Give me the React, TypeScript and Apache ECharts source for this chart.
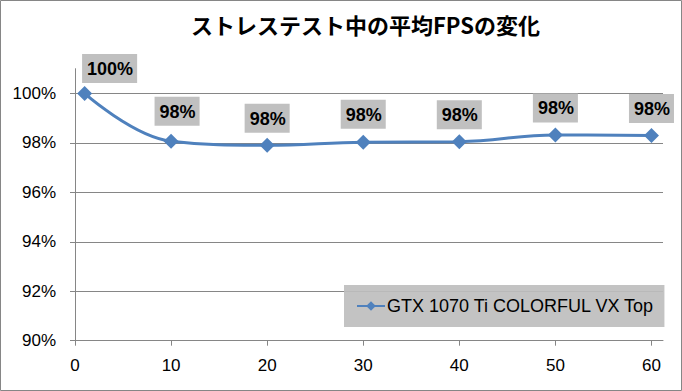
import React, { useEffect, useRef } from 'react';
import * as echarts from 'echarts';

const chartTitle = 'ストレステスト中の平均FPSの変化';
const seriesName = 'GTX 1070 Ti COLORFUL VX Top';
const xValues = [1, 10, 20, 30, 40, 50, 60];
const fpsPercent = [100, 98.07, 97.9, 98.03, 98.05, 98.32, 98.3];
const xTicks = [0, 10, 20, 30, 40, 50, 60];
const yTicks = [90, 92, 94, 96, 98, 100];

const labelOffsets: number[][] = [[25, 2], [6, -3], [0, 0], [0, -1], [0, 0], [0, 0], [0, 0]];

export default function App() {
  const ref = useRef<HTMLDivElement>(null);
  useEffect(() => {
    document.body.style.margin = '0';
    const chart = echarts.init(ref.current!, null, { renderer: 'svg' });
    const axisColor = '#868686';
    const font = '"Liberation Sans", Arial, sans-serif';
    chart.setOption({
      animation: false,
      backgroundColor: '#ffffff',
      title: {
        text: chartTitle,
        left: 186,
        top: 8,
        textStyle: { fontFamily: '"Noto Sans CJK JP", sans-serif', fontWeight: 'bold', fontSize: 22, color: '#000' },
      },
      legend: {
        left: 344,
        top: 285,
        padding: [12, 10, 12, 12],
        backgroundColor: 'rgba(190,190,190,0.92)',
        itemWidth: 28,
        itemHeight: 12,
        itemGap: 4,
        textStyle: { fontFamily: font, fontSize: 18, color: '#000', padding: [0, 0, 0, -3] },
        data: [seriesName],
      },
      grid: { left: 75, right: 19, top: 68.7, bottom: 50.3, containLabel: false },
      xAxis: {
        type: 'value',
        min: 0,
        max: 61.2,
        axisLine: { show: true, lineStyle: { color: axisColor, width: 1 } },
        axisTick: { show: true, inside: false, length: 5, lineStyle: { color: axisColor }, customValues: xTicks },
        axisLabel: { customValues: xTicks, margin: 16, fontFamily: font, fontSize: 17, color: '#000' },
        splitLine: { show: false },
      },
      yAxis: {
        type: 'value',
        min: 90,
        max: 101,
        axisLine: { show: true, lineStyle: { color: axisColor, width: 1 } },
        axisTick: { show: true, inside: false, length: 5, lineStyle: { color: axisColor }, customValues: yTicks },
        axisLabel: { customValues: yTicks, margin: 19, fontFamily: font, fontSize: 17, color: '#000', formatter: (v: number) => v + '%' },
        splitLine: { show: true, lineStyle: { color: axisColor, width: 1 } },
      },
      series: [
        {
          name: seriesName,
          type: 'line',
          smooth: 0.4,
          symbol: 'diamond',
          symbolSize: 15,
          itemStyle: { color: '#4f81bd' },
          lineStyle: { color: '#4f81bd', width: 3 },
          data: xValues.map((x, i) => ({
            value: [x, fpsPercent[i]],
            label: { offset: labelOffsets[i] },
          })),
          label: {
            show: true,
            position: 'top',
            distance: 5,
            formatter: (p: any) => Math.round(p.value[1]) + '%',
            backgroundColor: '#c0c0c0',
            padding: [6, 4, 5, 5],
            fontFamily: font,
            fontWeight: 'bold',
            fontSize: 18,
            color: '#000',
          },
        },
      ],
      graphic: [
        {
          type: 'rect',
          shape: { x: 0.5, y: 0.5, width: 681, height: 390 },
          style: { fill: 'none', stroke: '#868686', lineWidth: 1 },
          silent: true,
        },
      ],
    });
    return () => chart.dispose();
  }, []);
  return <div ref={ref} style={{ position: 'absolute', left: 0, top: 0, width: 682, height: 391 }} />;
}
